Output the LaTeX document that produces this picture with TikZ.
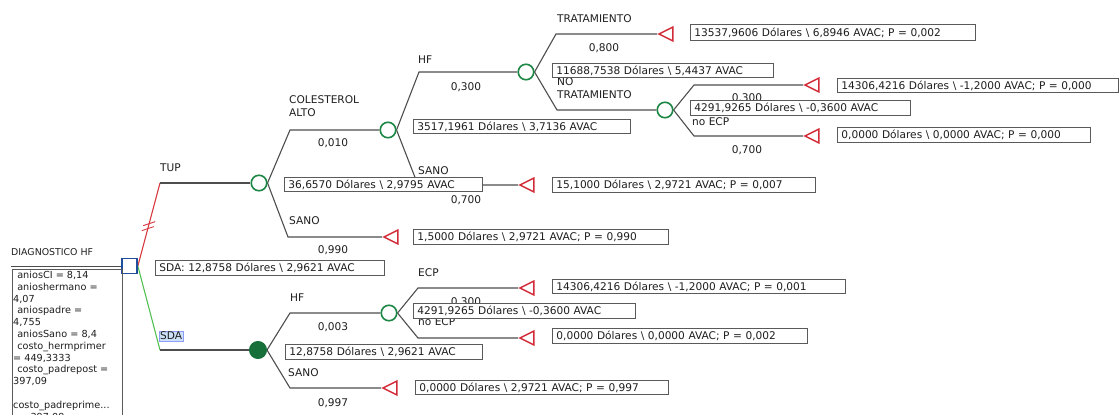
\documentclass[tikz,border=0pt]{standalone}
\usepackage{fontspec}
\setmainfont{DejaVu Sans}
\usetikzlibrary{shapes.geometric,calc}
\definecolor{txt}{HTML}{1E1E1E}
\definecolor{ln}{HTML}{4D4D4D}
\definecolor{bx}{HTML}{5A5A5A}
\definecolor{cg}{HTML}{1E8746}
\definecolor{cgf}{HTML}{17703A}
\definecolor{tr}{HTML}{D22B38}
\definecolor{dec}{HTML}{1F4E9C}
\definecolor{rb}{HTML}{D83A42}
\definecolor{gb}{HTML}{52C152}
\definecolor{hl}{HTML}{CDE2F8}
\pgfdeclarelayer{bg}
\pgfsetlayers{bg,main}
\tikzset{
  lbl/.style={text=txt, font=\fontsize{10.6}{13}\selectfont, inner sep=0pt},
  lblw/.style={lbl, anchor=west, align=left},
  br/.style={draw=ln, line width=1.1pt},
  chance/.style={circle, draw=cg, line width=1.6pt, fill=white, minimum size=15.5pt, inner sep=0pt},
  chancef/.style={circle, draw=cgf, fill=cgf, line width=1pt, minimum size=17pt, inner sep=0pt},
  term/.style={isosceles triangle, isosceles triangle stretches, shape border rotate=180, draw=tr, line width=1.5pt, fill=white, minimum height=14pt, minimum width=14pt, inner sep=0pt, anchor=apex},
  decis/.style={rectangle, draw=dec, line width=1.7pt, fill=white, minimum size=15pt, inner sep=0pt},
  vbox/.style={draw=bx, line width=0.8pt, fill=white, text=txt, font=\fontsize{10.6}{12}\selectfont, anchor=north west, inner xsep=4pt, inner ysep=0pt, align=left},
  pan/.style={text=txt, font=\fontsize{9.7}{12}\selectfont, inner sep=0pt, anchor=base west},
}
\newcommand{\vb}[6]{%
  \pgfmathsetmacro\vbh{#4-#2}\pgfmathsetmacro\vbt{#3-#1-8}%
  \node[vbox, minimum height=\vbh pt, text width=\vbt pt] (#5) at (#1,#2) {#6};}
\newcommand{\bs}{\textbackslash}
\begin{document}
\begin{tikzpicture}[x=1pt,y=-1pt]
\useasboundingbox (0,0) rectangle (1120,415);
\clip (0,0) rectangle (1120,415);
% ---- decision / chance / terminal nodes
\node[decis] (dn) at (129.5,266) {};
\node[chance] (tup) at (259,183) {};
\node[chancef] (sda) at (258,350) {};
\node[chance] (col) at (388,130) {};
\node[chance] (hf1) at (526,72) {};
\node[chance] (notr) at (665,110) {};
\node[chance] (hf2) at (389,313) {};
\node[term] (tTsano) at (382,237) {};
\node[term] (tCsano) at (518,185) {};
\node[term] (tTrat) at (657,34) {};
\node[term] (tEcp1) at (803,85) {};
\node[term] (tNoecp1) at (803,136) {};
\node[term] (tSsano) at (381,388) {};
\node[term] (tEcp2) at (518,288) {};
\node[term] (tNoecp2) at (518,338) {};
% ---- corner coordinates
\coordinate (root) at (11,266);
\coordinate (kTup) at (160,183);
\coordinate (kSda) at (160,350);
\coordinate (kCol) at (290,130);
\coordinate (kTsano) at (288,237);
\coordinate (kHf1) at (419,72);
\coordinate (kCsano) at (418,185);
\coordinate (kTrat) at (556,34);
\coordinate (kNotr) at (557,110);
\coordinate (kEcp1) at (694,85);
\coordinate (kNoecp1) at (694,136);
\coordinate (kHf2) at (290,313);
\coordinate (kSsano) at (290,388);
\coordinate (kEcp2) at (418,288);
\coordinate (kNoecp2) at (418,338);
% ---- connectors
\begin{pgfonlayer}{bg}
\draw[br, line width=0.9pt] (root) -- (dn.west);
\draw[draw=rb, line width=1.1pt] (dn.east) -- (kTup);
\draw[draw=gb, line width=1.1pt] (dn.east) -- (kSda);
\draw[draw=rb, line width=0.9pt] ($(dn.east)!0.45!(kTup)$) ++(-6,2) -- ++(12,-4);
\draw[draw=rb, line width=0.9pt] ($(dn.east)!0.51!(kTup)$) ++(-6,2) -- ++(12,-4);
\draw[br] (kTup) -- (tup.west);
\draw[br] (kSda) -- (sda.west);
\draw[br] (tup.east) -- (kCol) -- (col.west);
\draw[br] (tup.east) -- (kTsano) -- (tTsano.apex);
\draw[br] (col.east) -- (kHf1) -- (hf1.west);
\draw[br] (col.east) -- (kCsano) -- (tCsano.apex);
\draw[br] (hf1.east) -- (kTrat) -- (tTrat.apex);
\draw[br] (hf1.east) -- (kNotr) -- (notr.west);
\draw[br] (notr.east) -- (kEcp1) -- (tEcp1.apex);
\draw[br] (notr.east) -- (kNoecp1) -- (tNoecp1.apex);
\draw[br] (sda.east) -- (kHf2) -- (hf2.west);
\draw[br] (sda.east) -- (kSsano) -- (tSsano.apex);
\draw[br] (hf2.east) -- (kEcp2) -- (tEcp2.apex);
\draw[br] (hf2.east) -- (kNoecp2) -- (tNoecp2.apex);
\end{pgfonlayer}
% ---- labels
\node[lblw, font=\fontsize{9.4}{12}\selectfont] (lRoot) at (11,252) {DIAGNOSTICO HF};
\node[lblw] (lTup) at (160,168) {TUP};
\node[lblw, fill=hl, draw=hl!70!blue, line width=0.4pt, inner sep=1pt] (lSda) at (159,336) {SDA};
\node[lblw] (lCol) at (289,106.5) {COLESTEROL\\ALTO};
\node[lbl] (pCol) at (333,143) {0,010};
\node[lblw] (lTsano) at (289,221) {SANO};
\node[lbl] (pTsano) at (333,250) {0,990};
\node[lblw] (lHf1) at (418,60) {HF};
\node[lbl] (pHf1) at (466,87) {0,300};
\node[lblw] (lCsano) at (418,171) {SANO};
\node[lbl] (pCsano) at (466,200) {0,700};
\node[lblw] (lTrat) at (557,19) {TRATAMIENTO};
\node[lbl] (pTrat) at (604,48) {0,800};
\node[lblw] (lNotr) at (557,88.5) {NO\\TRATAMIENTO};
\node[lbl] (pEcp1) at (747,98) {0,300};
\node[lblw] (lNoecp1) at (692,122) {no ECP};
\node[lbl] (pNoecp1) at (747,150) {0,700};
\node[lblw] (lHf2) at (290,298) {HF};
\node[lbl] (pHf2) at (333,327) {0,003};
\node[lblw] (lSsano) at (288,373) {SANO};
\node[lbl] (pSsano) at (333,403) {0,997};
\node[lblw] (lEcp2) at (418,273) {ECP};
\node[lbl] (pEcp2) at (466,302) {0,300};
\node[lblw] (lNoecp2) at (418,322) {no ECP};
% ---- value boxes
\vb{155}{260}{384}{275}{evSda}{SDA: 12,8758 Dólares \bs{} 2,9621 AVAC}
\vb{284}{177}{482}{191}{evTup}{36,6570 Dólares \bs{} 2,9795 AVAC}
\vb{413}{119}{630}{133}{evCol}{3517,1961 Dólares \bs{} 3,7136 AVAC}
\vb{552}{63}{773}{77}{evHf1}{11688,7538 Dólares \bs{} 5,4437 AVAC}
\vb{690}{100}{910}{115}{evNotr}{4291,9265 Dólares \bs{} -0,3600 AVAC}
\vb{690}{24}{975}{40}{vTrat}{13537,9606 Dólares \bs{} 6,8946 AVAC; P = 0,002}
\vb{837}{78}{1118}{92}{vEcp1}{14306,4216 Dólares \bs{} -1,2000 AVAC; P = 0,000}
\vb{837}{127}{1090}{142}{vNoecp1}{0,0000 Dólares \bs{} 0,0000 AVAC; P = 0,000}
\vb{552}{177}{815}{192}{vCsano}{15,1000 Dólares \bs{} 2,9721 AVAC; P = 0,007}
\vb{413}{229}{668}{244}{vTsano}{1,5000 Dólares \bs{} 2,9721 AVAC; P = 0,990}
\vb{285}{344}{482}{359}{evSda2}{12,8758 Dólares \bs{} 2,9621 AVAC}
\vb{413}{303}{635}{318}{evHf2}{4291,9265 Dólares \bs{} -0,3600 AVAC}
\vb{552}{279}{845}{293}{vEcp2}{14306,4216 Dólares \bs{} -1,2000 AVAC; P = 0,001}
\vb{552}{328}{807}{343}{vNoecp2}{0,0000 Dólares \bs{} 0,0000 AVAC; P = 0,002}
\vb{415}{380}{668}{394}{vSsano}{0,0000 Dólares \bs{} 2,9721 AVAC; P = 0,997}
% ---- variables panel
\draw[draw=bx, line width=0.8pt] (12,269) rectangle (122,440);
\node[pan] (v1) at (14,278.5) {\ aniosCI = 8,14};
\node[pan] (v2) at (14,290.3) {\ anioshermano =};
\node[pan] (v3) at (13,302.1) {4,07};
\node[pan] (v4) at (14,313.9) {\ aniospadre =};
\node[pan] (v5) at (13,325.7) {4,755};
\node[pan] (v6) at (14,337.5) {\ aniosSano = 8,4};
\node[pan] (v7) at (14,349.3) {\ costo\_hermprimer};
\node[pan] (v8) at (13,361.1) {= 449,3333};
\node[pan] (v9) at (14,372.9) {\ costo\_padrepost =};
\node[pan] (v10) at (13,384.7) {397,09};
\node[pan] (v11) at (13,408.3) {costo\_padreprime...};
\node[pan] (v12) at (13,420.1) {\ \ = 397,09};
\end{tikzpicture}
\end{document}
